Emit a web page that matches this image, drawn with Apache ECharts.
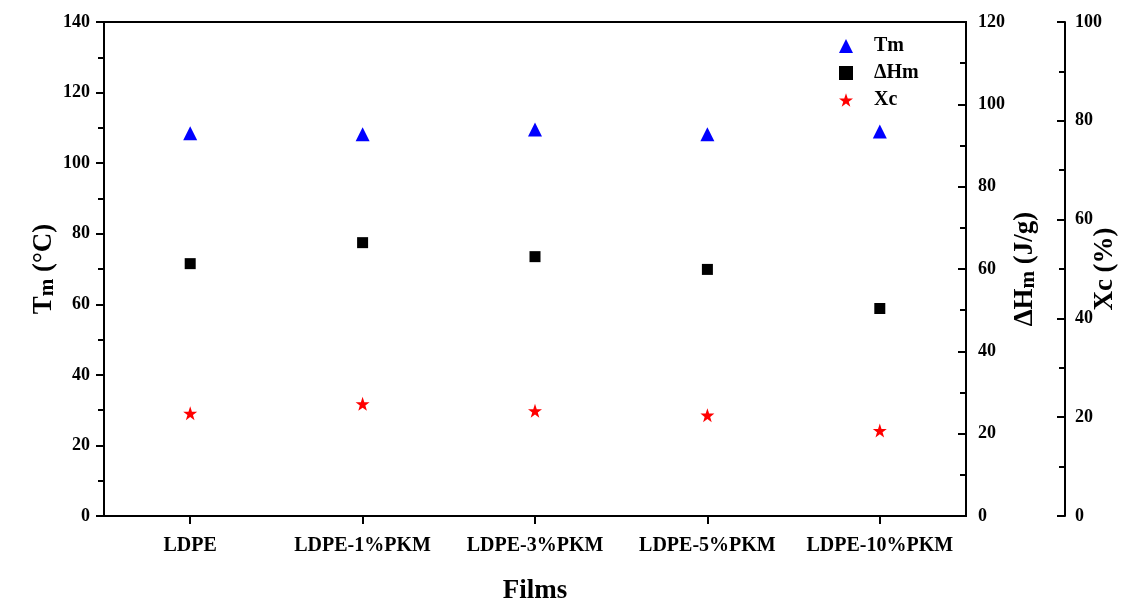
<!DOCTYPE html>
<html><head><meta charset="utf-8">
<script src="https://cdn.jsdelivr.net/npm/echarts@6/dist/echarts.min.js"></script>
<style>html,body{margin:0;padding:0;background:#fff}#c{width:1121px;height:600px}</style>
</head><body><div id="c"></div>
<script>
const categories = ['LDPE','LDPE-1%PKM','LDPE-3%PKM','LDPE-5%PKM','LDPE-10%PKM'];
const tmValues = [108.5, 108.2, 109.5, 108.2, 109.0];
const dhmValues = [61.3, 66.4, 63.0, 59.9, 50.4];
const xcValues = [20.8, 22.7, 21.3, 20.4, 17.3];

const F = '"Liberation Serif","Times New Roman",serif';
const lab = {fontFamily:F, fontWeight:'bold', fontSize:18, color:'#000'};
const axLine = {show:true, lineStyle:{color:'#000', width:2}};
const chart = echarts.init(document.getElementById('c'));
chart.setOption({
  backgroundColor:'#fff',
  animation:false,
  grid:{left:104, right:155, top:22, bottom:84, show:true, borderColor:'#000', borderWidth:2,
        containLabel:false, outerBoundsMode:'none'},
  legend:{
    orient:'vertical', left:834, top:31, itemGap:7, itemWidth:14, itemHeight:14,
    textStyle:{fontFamily:F, fontWeight:'bold', fontSize:20, color:'#000', padding:[0,0,0,16]},
    data:['Tm','ΔHm','Xc']
  },
  xAxis:{
    type:'category', data:categories, boundaryGap:true,
    axisLine:axLine,
    axisTick:{show:true, alignWithLabel:true, length:8, lineStyle:{color:'#000', width:2}},
    axisLabel:Object.assign({margin:20, interval:0}, lab, {fontSize:20}),
    name:'Films', nameLocation:'middle', nameGap:62, nameMoveOverlap:false,
    nameTextStyle:{fontFamily:F, fontWeight:'bold', fontSize:27, color:'#000'},
    splitLine:{show:false}
  },
  yAxis:[
    {
      type:'value', min:0, max:140, interval:20, position:'left',
      axisLine:axLine,
      axisTick:{show:true, length:8, lineStyle:{color:'#000', width:2}},
      minorTick:{show:true, splitNumber:2, length:6, lineStyle:{color:'#000', width:2}},
      axisLabel:Object.assign({margin:14}, lab),
      splitLine:{show:false},
      name:'{a|T}{b|m}{a| (°C)}', nameLocation:'middle', nameGap:46, nameRotate:90, nameMoveOverlap:false,
      nameTextStyle:{rich:{
        a:{fontFamily:F, fontWeight:'bold', fontSize:27, color:'#000'},
        b:{fontFamily:F, fontWeight:'bold', fontSize:21, color:'#000', padding:[6,0,0,0]}
      }}
    },
    {
      type:'value', min:0, max:120, interval:20, position:'right',
      axisLine:axLine,
      axisTick:{show:true, inside:true, length:8, lineStyle:{color:'#000', width:2}},
      minorTick:{show:true, splitNumber:2, length:6, lineStyle:{color:'#000', width:2}},
      axisLabel:Object.assign({margin:12}, lab),
      splitLine:{show:false},
      name:'{a|ΔH}{b|m}{a| (J/g)}', nameLocation:'middle', nameGap:46, nameRotate:90, nameMoveOverlap:false,
      nameTextStyle:{rich:{
        a:{fontFamily:F, fontWeight:'bold', fontSize:27, color:'#000'},
        b:{fontFamily:F, fontWeight:'bold', fontSize:21, color:'#000', padding:[6,0,0,0]}
      }}
    },
    {
      type:'value', min:0, max:100, interval:20, position:'right', offset:99,
      axisLine:axLine,
      axisTick:{show:true, inside:true, length:8, lineStyle:{color:'#000', width:2}},
      minorTick:{show:true, splitNumber:2, length:6, lineStyle:{color:'#000', width:2}},
      axisLabel:Object.assign({margin:10}, lab),
      splitLine:{show:false},
      name:'Xc (%)', nameLocation:'middle', nameGap:27, nameRotate:90, nameMoveOverlap:false,
      nameTextStyle:{fontFamily:F, fontWeight:'bold', fontSize:27, color:'#000'}
    }
  ],
  series:[
    {name:'Tm', type:'scatter', yAxisIndex:0, data:tmValues, symbol:'triangle', symbolSize:14,
     itemStyle:{color:'#0000ff', opacity:1}},
    {name:'ΔHm', type:'scatter', yAxisIndex:1, data:dhmValues, symbol:'rect', symbolSize:11,
     itemStyle:{color:'#000', opacity:1}},
    {name:'Xc', type:'scatter', yAxisIndex:2, data:xcValues,
     symbol:'path://M50,0 L61.8,35.1 L97.6,35.1 L68.8,56.7 L79.4,91.2 L50,70.2 L20.6,91.2 L31.2,56.7 L2.4,35.1 L38.2,35.1 Z',
     symbolSize:14, itemStyle:{color:'#ff0000', opacity:1}}
  ]
});
</script></body></html>
